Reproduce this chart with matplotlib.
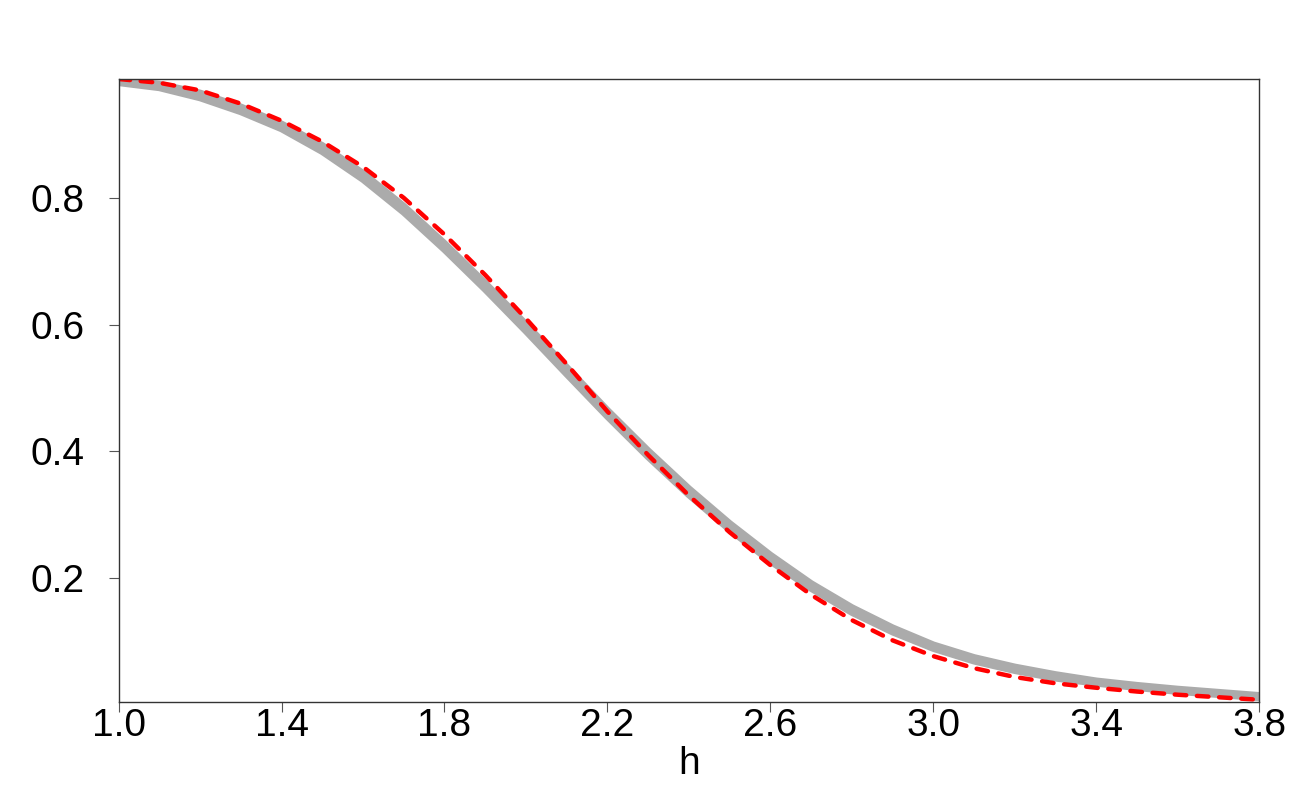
import matplotlib
matplotlib.use("Agg")
import matplotlib.pyplot as plt

h = [1.0, 1.1, 1.2, 1.3, 1.4, 1.5, 1.6, 1.7, 1.8, 1.9, 2.0, 2.1, 2.2, 2.3, 2.4,
     2.5, 2.6, 2.7, 2.8, 2.9, 3.0, 3.1, 3.2, 3.3, 3.4, 3.5, 3.6, 3.7, 3.8]

# theoretical curve (red dashed)
theory = [0.989, 0.983, 0.971, 0.950, 0.923, 0.890, 0.850, 0.801, 0.743, 0.679,
          0.610, 0.538, 0.463, 0.394, 0.330, 0.272, 0.220, 0.173, 0.133, 0.101,
          0.076, 0.057, 0.043, 0.033, 0.026, 0.020, 0.015, 0.011, 0.007]

# simulated curves (grey band)
sim_upper = [0.988, 0.981, 0.967, 0.945, 0.918, 0.884, 0.840, 0.788, 0.729, 0.666,
             0.601, 0.533, 0.465, 0.401, 0.341, 0.286, 0.236, 0.191, 0.153, 0.121,
             0.094, 0.074, 0.059, 0.047, 0.037, 0.030, 0.024, 0.019, 0.014]
sim_mid = [0.986, 0.978, 0.963, 0.941, 0.914, 0.879, 0.835, 0.783, 0.724, 0.661,
           0.595, 0.527, 0.460, 0.396, 0.336, 0.281, 0.231, 0.187, 0.149, 0.117,
           0.091, 0.071, 0.056, 0.044, 0.035, 0.028, 0.022, 0.017, 0.012]
sim_lower = [0.983, 0.975, 0.959, 0.937, 0.910, 0.874, 0.830, 0.778, 0.719, 0.656,
             0.590, 0.522, 0.455, 0.391, 0.331, 0.276, 0.226, 0.183, 0.145, 0.114,
             0.088, 0.068, 0.053, 0.041, 0.033, 0.026, 0.020, 0.015, 0.010]

xticks = [1.0, 1.4, 1.8, 2.2, 2.6, 3.0, 3.4, 3.8]
yticks = [0.2, 0.4, 0.6, 0.8]

plt.rcParams['font.family'] = ['Liberation Sans', 'DejaVu Sans']

fig = plt.figure(figsize=(13, 8), dpi=100)
ax = fig.add_axes([0.0912, 0.1229, 0.9687 - 0.0912, 0.90125 - 0.1229])

grey = '#ABABAB'
for s in (sim_upper, sim_mid, sim_lower):
    ax.plot(h, s, color=grey, lw=4.8, solid_capstyle='butt', solid_joinstyle='round')

ax.plot(h, theory, color='#FF0000', lw=3.2, dashes=(2.6, 2.4),
        dash_capstyle='round', dash_joinstyle='round')

ax.set_xlim(1.0, 3.8)
ax.set_ylim(0.004, 0.989)
ax.set_xticks(xticks)
ax.set_xticklabels([f"{t:.1f}" for t in xticks])
ax.set_yticks(yticks)
ax.set_yticklabels([f"{t:.1f}" for t in yticks])

for sp in ax.spines.values():
    sp.set_color('#333333')
    sp.set_linewidth(1.0)

ax.tick_params(axis='x', direction='out', length=7.2, width=0.8, color='#555555',
               labelsize=28, pad=-2.4)
ax.tick_params(axis='y', direction='out', length=7.2, width=0.8, color='#555555',
               labelsize=28, pad=17)
ax.set_xlabel('h', fontsize=28, labelpad=1)

fig.savefig('out.png', dpi=100)
